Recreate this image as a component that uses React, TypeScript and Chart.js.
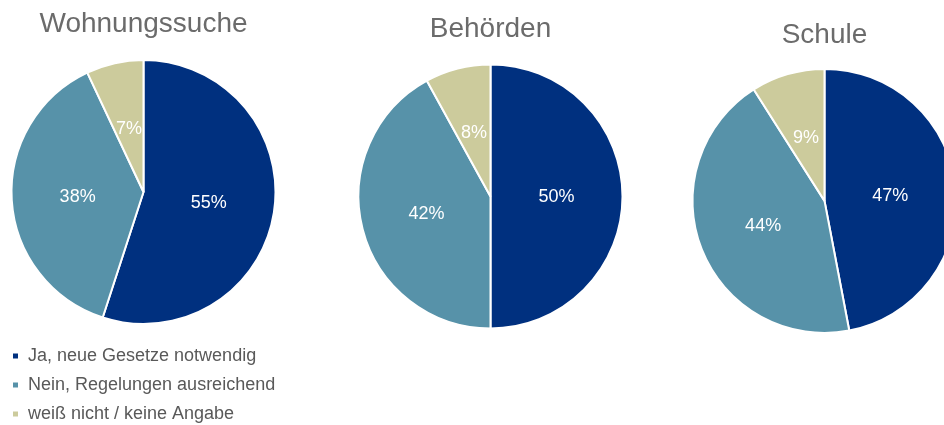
import React, { useEffect, useRef } from "react";
import { Chart, registerables } from "chart.js";

Chart.register(...registerables);

const categories = [
  "Ja, neue Gesetze notwendig",
  "Nein, Regelungen ausreichend",
  "weiß nicht / keine Angabe",
];
const titles = ["Wohnungssuche", "Behörden", "Schule"];
const wohnungssuche = [55, 38, 7];
const behoerden = [50, 42, 8];
const schule = [47, 44, 9];
const colors = ["#00307f", "#5792a9", "#cccb9c"];

const FONT = '"Liberation Sans", Arial, Helvetica, sans-serif';

const pctLabels = {
  id: "pctLabels",
  afterDatasetsDraw(chart: any) {
    const ctx = chart.ctx;
    const meta = chart.getDatasetMeta(0);
    const data = chart.data.datasets[0].data;
    ctx.save();
    ctx.font = `18px ${FONT}`;
    ctx.fillStyle = "#ffffff";
    ctx.textAlign = "center";
    ctx.textBaseline = "middle";
    meta.data.forEach((arc: any, i: number) => {
      const p = arc.tooltipPosition(false);
      ctx.fillText(`${data[i]}%`, p.x, p.y + 1);
    });
    ctx.restore();
  },
};

type PieProps = {
  title: string;
  values: number[];
  left: number;
  width: number;
  height: number;
  titleTop: number;
  titleBottom: number;
  legend: boolean;
};

function Pie({ title, values, left, width, height, titleTop, titleBottom, legend }: PieProps) {
  const ref = useRef<HTMLCanvasElement | null>(null);
  useEffect(() => {
    if (!ref.current) return;
    const chart = new Chart(ref.current, {
      type: "pie",
      data: {
        labels: categories,
        datasets: [
          {
            data: values,
            backgroundColor: colors,
            borderColor: "#ffffff",
            borderWidth: 2,
            radius: 132,
          },
        ],
      },
      options: {
        responsive: false,
        animation: false,
        devicePixelRatio: 1,
        layout: { padding: 0 },
        plugins: {
          title: {
            display: true,
            text: title,
            color: "#6b6b6b",
            font: { family: FONT, size: 28, weight: "normal", lineHeight: 1.2 },
            padding: { top: titleTop, bottom: titleBottom },
          },
          legend: {
            display: legend,
            position: "bottom",
            align: "start",
            labels: {
              color: "#595959",
              font: { family: FONT, size: 18 },
              boxWidth: 7,
              boxHeight: 7,
              padding: 11,
            },
          },
          tooltip: { enabled: false },
        },
      },
      plugins: [pctLabels],
    });
    return () => chart.destroy();
  }, []);
  return (
    <div style={{ position: "absolute", left, top: 0, width, height }}>
      <canvas ref={ref} width={width} height={height} style={{ display: "block" }} />
    </div>
  );
}

export default function App() {
  return (
    <div
      style={{
        position: "fixed",
        left: 0,
        top: 0,
        width: 944,
        height: 425,
        overflow: "hidden",
        background: "#ffffff",
      }}
    >
      <Pie title={titles[0]} values={wohnungssuche} left={1} width={285} height={433} titleTop={7.2} titleBottom={7.2} legend={true} />
      <Pie title={titles[1]} values={behoerden} left={345} width={291} height={347} titleTop={12.2} titleBottom={0} legend={false} />
      <Pie title={titles[2]} values={schule} left={680} width={289} height={350} titleTop={18.2} titleBottom={0} legend={false} />
    </div>
  );
}
